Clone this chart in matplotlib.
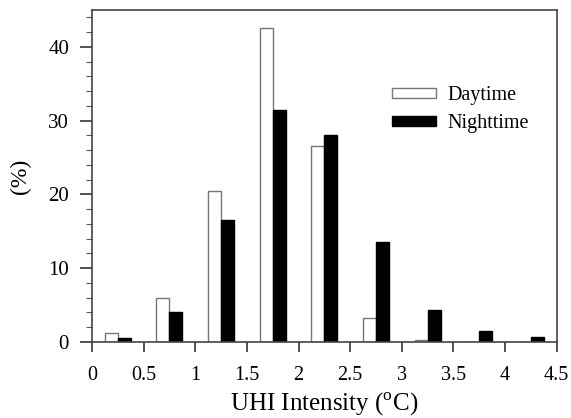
import matplotlib
matplotlib.use("Agg")
import matplotlib.pyplot as plt
import numpy as np

plt.rcParams['font.family'] = ['Liberation Serif', 'DejaVu Serif']
plt.rcParams['mathtext.fontset'] = 'custom'
plt.rcParams['mathtext.rm'] = 'Liberation Serif'

bin_centers = [0.25, 0.75, 1.25, 1.75, 2.25, 2.75, 3.25, 3.75, 4.25]
daytime = [1.2, 5.9, 20.5, 42.5, 26.5, 3.3, 0.3, 0.0, 0.0]
nighttime = [0.5, 4.1, 16.5, 31.5, 28.0, 13.5, 4.3, 1.5, 0.6]
xticks = [0, 0.5, 1, 1.5, 2, 2.5, 3, 3.5, 4, 4.5]
xticklabels = ['0', '0.5', '1', '1.5', '2', '2.5', '3', '3.5', '4', '4.5']

fig = plt.figure(figsize=(5.71, 4.18), dpi=100)
ax = fig.add_axes([0.161, 0.182, 0.814, 0.794])

w = 0.125
x = np.array(bin_centers)
ax.bar(x, daytime, width=-w, align='edge', color='white', edgecolor='#777777', linewidth=1.0, label='Daytime')
ax.bar(x, nighttime, width=w, align='edge', color='black', edgecolor='black', linewidth=1.0, label='Nighttime')

ax.set_xlim(0, 4.5)
ax.set_ylim(0, 45)
ax.set_xticks(xticks)
ax.set_xticklabels(xticklabels)
ax.set_yticks([0, 10, 20, 30, 40])
ax.set_yticks(np.arange(0, 45, 2), minor=True)
ax.tick_params(axis='x', which='major', direction='out', length=7.5, width=1.2, labelsize=14.5, pad=10, color='#333333')
ax.tick_params(axis='y', which='major', direction='out', length=8.5, width=1.2, labelsize=15, pad=8, color='#333333')
ax.tick_params(axis='y', which='minor', direction='out', length=4, width=0.8, color='#555555')
for s in ax.spines.values():
    s.set_color('#444444')
    s.set_linewidth(1.2)

ax.set_xlabel('UHI Intensity ($^\\mathrm{o}$C)', fontsize=18, labelpad=4)
ax.set_ylabel('(%)', fontsize=17, labelpad=12)

leg = ax.legend(loc='upper left', bbox_to_anchor=(0.625, 0.801), frameon=False, fontsize=14.5,
                borderpad=0, handlelength=2.15, handleheight=0.4, labelspacing=0.45, handletextpad=0.6)

fig.savefig('out.png', dpi=100)
